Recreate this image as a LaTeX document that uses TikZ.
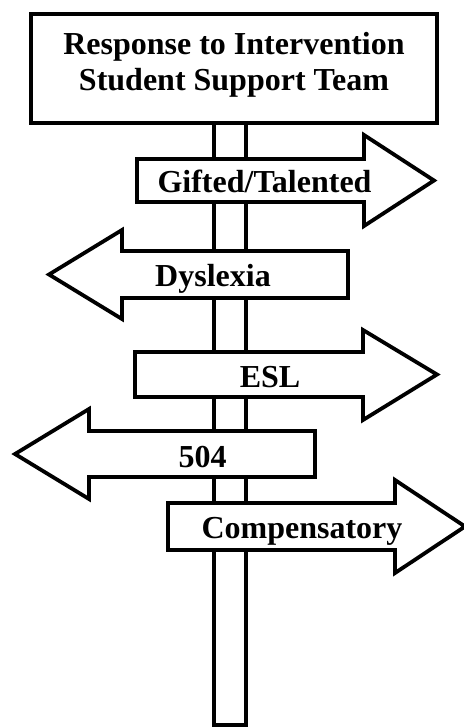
\documentclass[tikz,border=0pt]{standalone}
\usepackage{fontspec}
\setmainfont{Liberation Serif}
\usetikzlibrary{positioning}

\tikzset{
    sign/.style={draw=black, fill=white, line width=3.8pt, line join=miter},
    signtext/.style={anchor=base, inner sep=0pt, font=\fontsize{32}{35.5}\selectfont\bfseries}
}

\begin{document}
\begin{tikzpicture}[x=1pt, y=-1pt]
            \useasboundingbox (0,0) rectangle (463,727);

            % Post
            \draw[sign] (214,123) rectangle (246,725);

            % Title board
            \draw[sign] (31,14) rectangle (437,123);
            \node[signtext, anchor=center, align=center] (title) at (234,65)
                {Response to Intervention\\Student Support Team};

            % Arrows pointing right
            \draw[sign] (137,159) -- (364,159) -- (364,135) -- (434,180.5)
                -- (364,226) -- (364,202) -- (137,202) -- cycle;
            \draw[sign] (135,352) -- (363,352) -- (363,330) -- (437,374.5)
                -- (363,420) -- (363,397) -- (135,397) -- cycle;
            \draw[sign] (168,503) -- (395,503) -- (395,480) -- (465,526.5)
                -- (395,573) -- (395,550) -- (168,550) -- cycle;

            % Arrows pointing left
            \draw[sign] (348,251) -- (122,251) -- (122,230) -- (49,274.5)
                -- (122,319) -- (122,298) -- (348,298) -- cycle;
            \draw[sign] (315,431) -- (89,431) -- (89,409) -- (15,454)
                -- (89,499) -- (89,477) -- (315,477) -- cycle;

            % Labels
            \node[signtext] (gifted) at (264.5,193) {Gifted/Talented};
            \node[signtext] (dyslexia) at (213,286) {Dyslexia};
            \node[signtext] (esl) at (270,387) {ESL};
            \node[signtext] (sec504) at (202.5,467) {504};
            \node[signtext] (comp) at (302,538) {Compensatory};
          \end{tikzpicture}
\end{document}
